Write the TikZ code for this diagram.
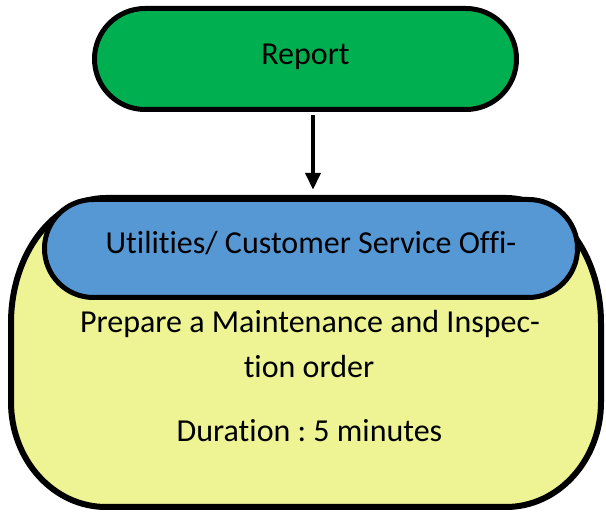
\documentclass[tikz,border=0pt]{standalone}
\usepackage{fontspec}
\setmainfont{Carlito}[Ligatures=NoCommon]
\usetikzlibrary{arrows.meta}
\frenchspacing
\definecolor{greenfill}{RGB}{0,176,80}
\definecolor{bluefill}{RGB}{86,152,212}
\definecolor{yellowfill}{RGB}{238,243,148}
\tikzset{
  box/.style={draw=black, line width=5pt, inner sep=0pt},
  txt/.style={font=\fontsize{32}{38}\selectfont, inner sep=0pt, anchor=base},
  link/.style={draw=black, line width=4pt, -{Triangle[width=15pt,length=17pt]}}
}
\begin{document}
\begin{tikzpicture}[x=1pt,y=1pt]
\useasboundingbox (0,0) rectangle (606,512);
% top terminator
\node[box, fill=greenfill, rounded corners=50.5pt, minimum width=422pt, minimum height=101pt] (report) at (305.5,453) {};
\node[txt] (reporttxt) at (305.5,447) {Report};
% process body
\node[minimum width=590pt, minimum height=309pt, inner sep=0pt] (proc) at (306,159.5) {};
\draw[line width=6pt, fill=yellowfill]
  (106,314) -- (506,314)
  arc[start angle=90, end angle=0, x radius=95, y radius=125]
  -- (601,110)
  arc[start angle=0, end angle=-90, x radius=95, y radius=105]
  -- (106,5)
  arc[start angle=270, end angle=180, x radius=95, y radius=105]
  -- (11,189)
  arc[start angle=180, end angle=90, x radius=95, y radius=125]
  -- cycle;
\node[box, fill=bluefill, rounded corners=49pt, minimum width=533pt, minimum height=98pt] (office) at (311,263.5) {};
\node[txt] (officetxt) at (311,258) {Utilities/ Customer Service Offi-};
\node[txt] (line1) at (310,179) {Prepare a Maintenance and Inspec-};
\node[txt] (line2) at (309,134) {tion order};
\node[txt] (line3) at (309.5,70) {Duration : 5 minutes};
% connector
\draw[link] ([xshift=7.5pt,yshift=-3.5pt]report.south) -- ([xshift=7pt,yshift=8pt]proc.north);
\end{tikzpicture}
\end{document}
